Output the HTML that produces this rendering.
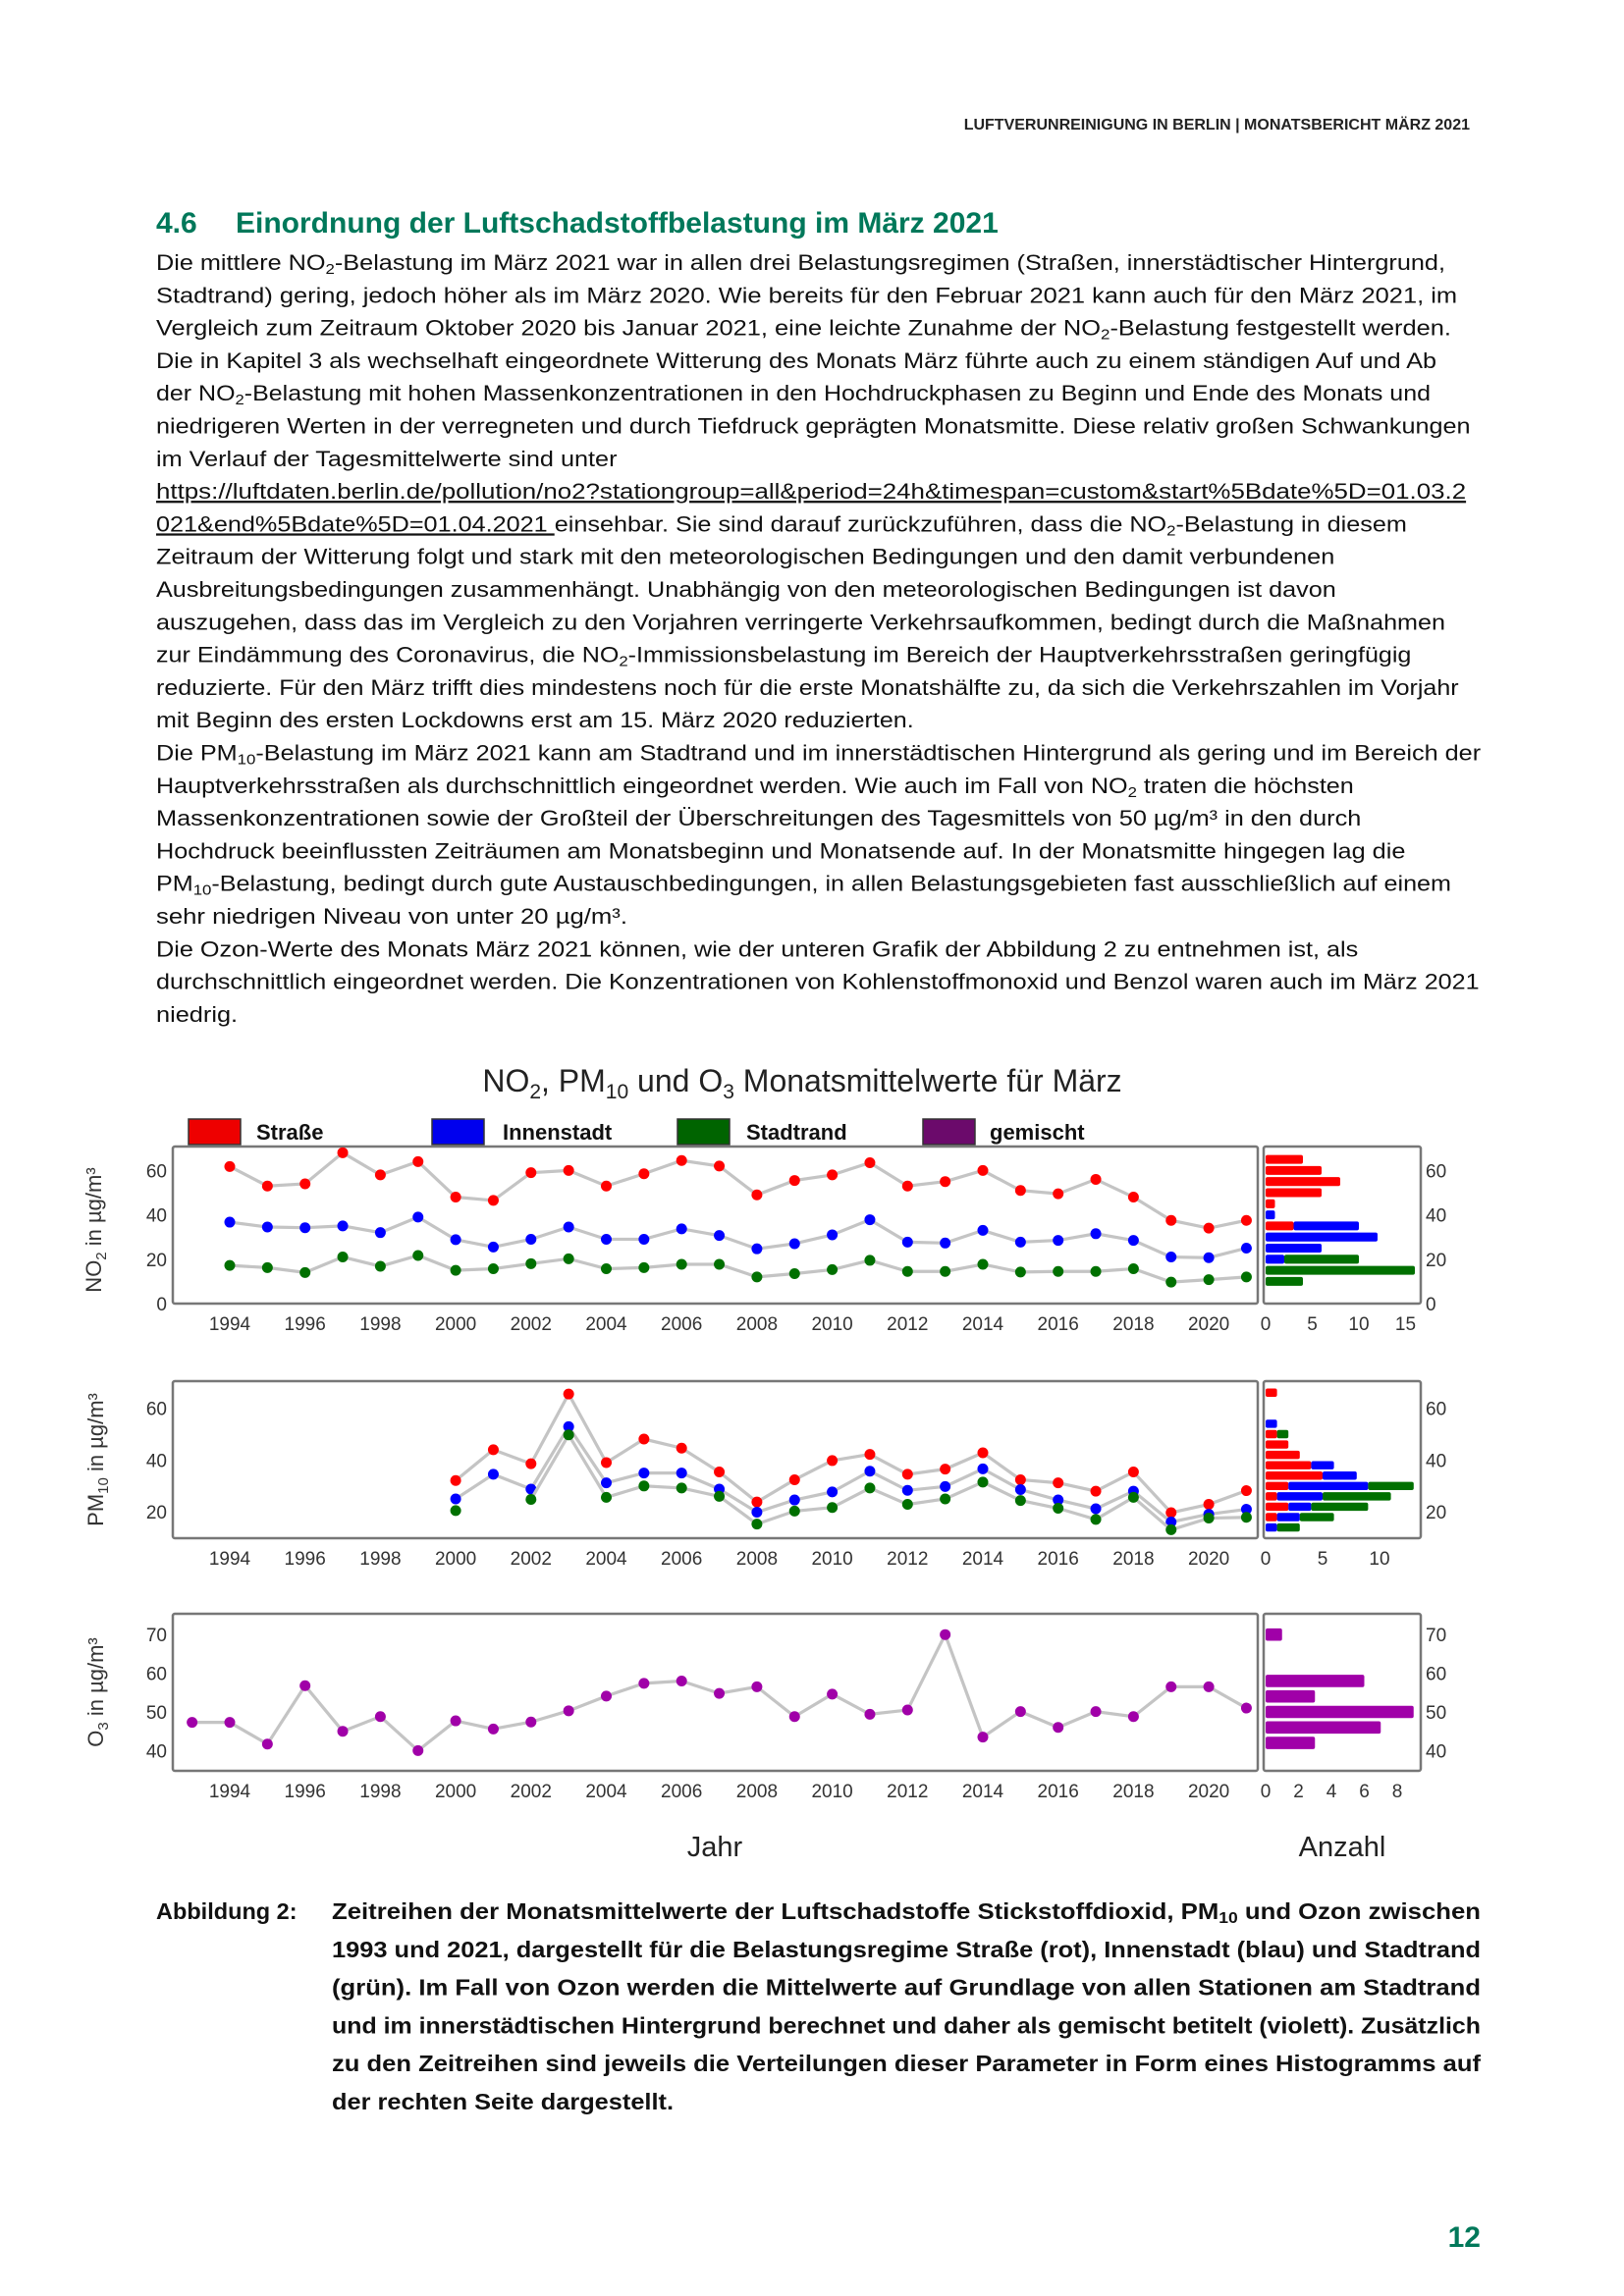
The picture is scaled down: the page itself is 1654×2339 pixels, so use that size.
<!DOCTYPE html>
<html><head><meta charset="utf-8"><style>
html,body{margin:0;padding:0;background:#fff;}
svg{display:block;}
.b{font-family:"Liberation Sans",sans-serif;fill:#111;font-size:22.5px;}
.c{font-family:"Liberation Sans",sans-serif;fill:#111;font-size:23.5px;font-weight:bold;}
.t{font-family:"Liberation Sans",sans-serif;fill:#333;font-size:19px;}
</style></head><body>
<svg id="page" width="1654" height="2339" viewBox="0 0 1654 2339" xmlns="http://www.w3.org/2000/svg">
<text x="1497" y="132" text-anchor="end" font-family="Liberation Sans, sans-serif" font-weight="bold" font-size="16" fill="#222">LUFTVERUNREINIGUNG IN BERLIN | MONATSBERICHT MÄRZ 2021</text>
<text x="159" y="237" font-family="Liberation Sans, sans-serif" font-weight="bold" font-size="30" fill="#00785a">4.6<tspan x="240">Einordnung der Luftschadstoffbelastung im März 2021</tspan></text>
<g id="body"></g>
<g id="chart"></g>
<g id="caption"></g>
<text x="1508" y="2289" text-anchor="end" font-family="Liberation Sans, sans-serif" font-weight="bold" font-size="30" fill="#00785a">12</text>
</svg>
<script>
// ---------- chart data ----------
const years = [1993,1994,1995,1996,1997,1998,1999,2000,2001,2002,2003,2004,2005,2006,2007,2008,2009,2010,2011,2012,2013,2014,2015,2016,2017,2018,2019,2020,2021];
const no2Years = [1994,1995,1996,1997,1998,1999,2000,2001,2002,2003,2004,2005,2006,2007,2008,2009,2010,2011,2012,2013,2014,2015,2016,2017,2018,2019,2020,2021];
const no2Strasse = [61.8,53,54,68,58,64,48,46.5,59,60,53,58.5,64.5,62,49,55.5,58,63.5,53,55,60,51,49.5,56,48,37.5,34,37.5];
const no2Innenstadt = [36.7,34.5,34.2,35,32,39,28.8,25.5,29,34.5,29,29,33.7,30.7,24.7,27,31,37.8,27.7,27.3,33,27.7,28.5,31.5,28.5,21,20.7,25];
const no2Stadtrand = [17.2,16.2,14,21,16.8,21.7,15,15.7,18,20.2,15.7,16.2,17.7,17.7,12,13.5,15.3,19.5,14.5,14.5,17.7,14.2,14.5,14.5,15.7,9.7,10.8,12];
const pmYears = [2000,2001,2002,2003,2004,2005,2006,2007,2008,2009,2010,2011,2012,2013,2014,2015,2016,2017,2018,2019,2020,2021];
const pmStrasse = [32.1,44,38.6,65.5,39,48.1,44.6,35.4,23.8,32.4,39.8,42.2,34.5,36.5,42.8,32.4,31.2,28,35.4,19.7,22.9,28.2];
const pmInnenstadt = [25,34.5,28.8,52.9,31.2,35,35,28.8,19.9,24.6,27.7,35.7,28.3,29.8,36.6,28.6,24.6,21.2,28,16.1,19.1,21];
const pmStadtrand = [20.5,null,24.8,49.7,25.6,30,29.2,26,15.3,20.3,21.7,29.2,22.9,25,31.5,24.4,21.4,17.1,25.6,13.1,17.6,17.9];
const o3Gemischt = [47.3,47.3,41.7,56.8,45,48.8,40,47.7,45.6,47.4,50.3,54.1,57.4,58,54.8,56.5,48.8,54.6,49.4,50.5,70,43.5,50.1,46,50.1,48.8,56.5,56.5,51];
const no2BinCenters = [10,15,20,25,30,35,40,45,50,55,60,65];
const no2HistStrasse = [0,0,0,0,0,3,0,1,6,8,6,4];
const no2HistInnenstadt = [0,0,2,6,12,7,1,0,0,0,0,0];
const no2HistStadtrand = [4,16,8,0,0,0,0,0,0,0,0,0];
const pmBinCenters = [14,18,22,26,30,34,38,42,46,50,54,58,62,66];
const pmHistStrasse = [0,1,2,1,2,5,4,3,2,1,0,0,0,1];
const pmHistInnenstadt = [1,2,2,4,7,3,2,0,0,0,1,0,0,0];
const pmHistStadtrand = [2,3,5,6,4,0,0,0,0,1,0,0,0,0];
const o3BinCenters = [42,46,50,54,58,62,66,70];
const o3HistGemischt = [3,7,9,3,6,0,0,1];
const yearTicks = [1994,1996,1998,2000,2002,2004,2006,2008,2010,2012,2014,2016,2018,2020];
const no2YTicks = [0,20,40,60];
const pmYTicks = [20,40,60];
const o3YTicks = [40,50,60,70];
const no2CountTicks = [0,5,10,15];
const pmCountTicks = [0,5,10];
const o3CountTicks = [0,2,4,6,8];

const NS="http://www.w3.org/2000/svg";
function mk(tag,parent,attrs){const e=document.createElementNS(NS,tag);for(const k in attrs)e.setAttribute(k,attrs[k]);parent.appendChild(e);return e;}
const chart=document.getElementById('chart');
const COL={r:'#ff0000',b:'#0000ff',g:'#007000',p:'#a000a8'};
const xYear=y=>234+(y-1994)*38.35;
const BOX_L=176,BOX_R=1281,H_L=1287,H_R=1447;
const panels=[
 {name:'no2',top:1168,bot:1328,y:v=>1328-v*2.26,ticks:no2YTicks,cs:9.5,cticks:no2CountTicks,lab:1348,binw:5,
  title:['NO','2',' in µg/m³'],tx:103,ty:1253},
 {name:'pm10',top:1407,bot:1567,y:v=>1593-v*2.64,ticks:pmYTicks,cs:11.6,cticks:pmCountTicks,lab:1587,binw:4,
  title:['PM','10',' in µg/m³'],tx:105,ty:1487},
 {name:'o3',top:1644,bot:1804,y:v=>1744-(v-50)*3.94,ticks:o3YTicks,cs:16.75,cticks:o3CountTicks,lab:1824,binw:4,
  title:['O','3',' in µg/m³'],tx:105,ty:1724}
];
// title
const tt=mk('text',chart,{x:817,y:1112,'text-anchor':'middle','font-family':'Liberation Sans, sans-serif','font-size':32,fill:'#222'});


tt.innerHTML='NO<tspan font-size="21" dy="7">2</tspan><tspan dy="-7">, PM</tspan><tspan font-size="21" dy="7">10</tspan><tspan dy="-7"> und O</tspan><tspan font-size="21" dy="7">3</tspan><tspan dy="-7"> Monatsmittelwerte für März</tspan>';
// legend
const legend=[['Straße','#ee0000',192,261],['Innenstadt','#0000ee',440,512],['Stadtrand','#006400',690,760],['gemischt','#6b0a6b',940,1008]];
legend.forEach(l=>{
 const r=mk('rect',chart,{x:l[2],y:1140,width:53,height:26,fill:l[1],stroke:'#333','stroke-width':1.5});
 
 
 const t=mk('text',chart,{x:l[3],y:1161,'font-family':'Liberation Sans, sans-serif','font-weight':'bold','font-size':22,fill:'#111'});
 t.textContent=l[0];
 
 
});
function series(p,xs,vals,color,nm){
 const g=mk('g',chart,{});
 
 
 let seg=[];const segs=[];
 xs.forEach((yr,i)=>{if(vals[i]==null){if(seg.length)segs.push(seg);seg=[];}else seg.push([xYear(yr),p.y(vals[i])]);});
 if(seg.length)segs.push(seg);
 segs.forEach(s=>{if(s.length>1){const pl=mk('polyline',g,{points:s.map(q=>q.join(',')).join(' '),fill:'none',stroke:'#c4c4c4','stroke-width':3.2});
  
  }});
 xs.forEach((yr,i)=>{if(vals[i]==null)return;
  const c=mk('circle',g,{cx:xYear(yr),cy:p.y(vals[i]),r:5.5,fill:color});
  
  });
}
function hist(p,centers,stacks){
 const g=mk('g',chart,{});
 
 
 const bh=Math.abs(p.y(0)-p.y(p.binw))*0.8;
 centers.forEach((c,i)=>{let acc=0;
  stacks.forEach(s=>{const n=s.vals[i];if(!n)return;
   const r=mk('rect',g,{x:H_L+2+acc*p.cs,y:p.y(c)-bh/2,width:n*p.cs,height:bh,fill:s.color,rx:2});
   
   
   acc+=n;});
 });
}
panels.forEach(p=>{
 const f=mk('rect',chart,{x:BOX_L,y:p.top,width:BOX_R-BOX_L,height:p.bot-p.top,fill:'none',stroke:'#777','stroke-width':2.5,rx:2});
 
 
 const h=mk('rect',chart,{x:H_L,y:p.top,width:H_R-H_L,height:p.bot-p.top,fill:'none',stroke:'#777','stroke-width':2.5,rx:2});
 
 
 p.ticks.forEach(v=>{
  const a=mk('text',chart,{x:170,y:p.y(v)+7,'text-anchor':'end',class:'t'});a.textContent=v;
  
  
  const b=mk('text',chart,{x:1452,y:p.y(v)+7,class:'t'});b.textContent=v;
  
  
 });
 yearTicks.forEach(yr=>{const t=mk('text',chart,{x:xYear(yr),y:p.lab+7,'text-anchor':'middle',class:'t'});t.textContent=yr;
  
  });
 p.cticks.forEach(v=>{const t=mk('text',chart,{x:H_L+2+v*p.cs,y:p.lab+7,'text-anchor':'middle',class:'t'});t.textContent=v;
  
  });
 const yt=mk('text',chart,{x:p.tx,y:p.ty,'text-anchor':'middle',transform:`rotate(-90 ${p.tx} ${p.ty})`,'font-family':'Liberation Sans, sans-serif','font-size':22,fill:'#333'});
 
 
 yt.innerHTML=p.title[0]+'<tspan font-size="15" dy="5">'+p.title[1]+'</tspan><tspan dy="-5">'+p.title[2]+'</tspan>';
});
series(panels[0],no2Years,no2Strasse,COL.r,'strasse');
series(panels[0],no2Years,no2Innenstadt,COL.b,'innenstadt');
series(panels[0],no2Years,no2Stadtrand,COL.g,'stadtrand');
hist(panels[0],no2BinCenters,[{vals:no2HistStrasse,color:COL.r,nm:'strasse'},{vals:no2HistInnenstadt,color:COL.b,nm:'innenstadt'},{vals:no2HistStadtrand,color:COL.g,nm:'stadtrand'}]);
series(panels[1],pmYears,pmStrasse,COL.r,'strasse');
series(panels[1],pmYears,pmInnenstadt,COL.b,'innenstadt');
series(panels[1],pmYears,pmStadtrand,COL.g,'stadtrand');
hist(panels[1],pmBinCenters,[{vals:pmHistStrasse,color:COL.r,nm:'strasse'},{vals:pmHistInnenstadt,color:COL.b,nm:'innenstadt'},{vals:pmHistStadtrand,color:COL.g,nm:'stadtrand'}]);
series(panels[2],years,o3Gemischt,COL.p,'gemischt');
hist(panels[2],o3BinCenters,[{vals:o3HistGemischt,color:COL.p,nm:'gemischt'}]);
const xl=mk('text',chart,{x:728,y:1891,'text-anchor':'middle','font-family':'Liberation Sans, sans-serif','font-size':29,fill:'#222'});xl.textContent='Jahr';


const cl=mk('text',chart,{x:1367,y:1891,'text-anchor':'middle','font-family':'Liberation Sans, sans-serif','font-size':29,fill:'#222'});cl.textContent='Anzahl';



// ---------- body text ----------
const S=s=>'<tspan font-size="15" dy="4">'+s+'</tspan><tspan dy="-4">';
const E='</tspan>';
const lines=[
['Die mittlere NO'+S('2')+'-Belastung im März 2021 war in allen drei Belastungsregimen (Straßen, innerstädtischer Hintergrund,'+E,979],
['Stadtrand) gering, jedoch höher als im März 2020. Wie bereits für den Februar 2021 kann auch für den März 2021, im',987],
['Vergleich zum Zeitraum Oktober 2020 bis Januar 2021, eine leichte Zunahme der NO'+S('2')+'-Belastung festgestellt werden.'+E,983],
['Die in Kapitel 3 als wechselhaft eingeordnete Witterung des Monats März führte auch zu einem ständigen Auf und Ab',973],
['der NO'+S('2')+'-Belastung mit hohen Massenkonzentrationen in den Hochdruckphasen zu Beginn und Ende des Monats und'+E,969],
['niedrigeren Werten in der verregneten und durch Tiefdruck geprägten Monatsmitte. Diese relativ großen Schwankungen',996],
['im Verlauf der Tagesmittelwerte sind unter',418],
['<tspan text-decoration="underline">https://luftdaten.berlin.de/pollution/no2?stationgroup=all&amp;period=24h&amp;timespan=custom&amp;start%5Bdate%5D=01.03.2</tspan>',993],
['<tspan text-decoration="underline">021&amp;end%5Bdate%5D=01.04.2021 </tspan>einsehbar. Sie sind darauf zurückzuführen, dass die NO'+S('2')+'-Belastung in diesem'+E,953],
['Zeitraum der Witterung folgt und stark mit den meteorologischen Bedingungen und den damit verbundenen',904],
['Ausbreitungsbedingungen zusammenhängt. Unabhängig von den meteorologischen Bedingungen ist davon',905],
['auszugehen, dass das im Vergleich zu den Vorjahren verringerte Verkehrsaufkommen, bedingt durch die Maßnahmen',979],
['zur Eindämmung des Coronavirus, die NO'+S('2')+'-Immissionsbelastung im Bereich der Hauptverkehrsstraßen geringfügig'+E,956],
['reduzierte. Für den März trifft dies mindestens noch für die erste Monatshälfte zu, da sich die Verkehrszahlen im Vorjahr',988],
['mit Beginn des ersten Lockdowns erst am 15. März 2020 reduzierten.',619],
['Die PM'+S('10')+'-Belastung im März 2021 kann am Stadtrand und im innerstädtischen Hintergrund als gering und im Bereich der'+E,1003],
['Hauptverkehrsstraßen als durchschnittlich eingeordnet werden. Wie auch im Fall von NO'+S('2')+' traten die höchsten'+E,917],
['Massenkonzentrationen sowie der Großteil der Überschreitungen des Tagesmittels von 50 µg/m³ in den durch',922],
['Hochdruck beeinflussten Zeiträumen am Monatsbeginn und Monatsende auf. In der Monatsmitte hingegen lag die',952],
['PM'+S('10')+'-Belastung, bedingt durch gute Austauschbedingungen, in allen Belastungsgebieten fast ausschließlich auf einem'+E,983],
['sehr niedrigen Niveau von unter 20 µg/m³.',425],
['Die Ozon-Werte des Monats März 2021 können, wie der unteren Grafik der Abbildung 2 zu entnehmen ist, als',920],
['durchschnittlich eingeordnet werden. Die Konzentrationen von Kohlenstoffmonoxid und Benzol waren auch im März 2021',1002],
['niedrig.',161]
];
const body=document.getElementById('body');
lines.forEach((l,i)=>{
 const t=mk('text',body,{x:159,y:275+i*33.3,class:'b',textLength:(l[1]*1.5036-159).toFixed(1),lengthAdjust:'spacingAndGlyphs'});
 
 
 t.innerHTML=l[0];
});
// ---------- caption ----------
const cap=document.getElementById('caption');
const ab=mk('text',cap,{x:159,y:1955,class:'c'});ab.textContent='Abbildung 2:';


const capLines=[
['Zeitreihen der Monatsmittelwerte der Luftschadstoffe Stickstoffdioxid, PM<tspan font-size="16" dy="4">10</tspan><tspan dy="-4"> und Ozon zwischen</tspan>',1170],
['1993 und 2021, dargestellt für die Belastungsregime Straße (rot), Innenstadt (blau) und Stadtrand',1170],
['(grün). Im Fall von Ozon werden die Mittelwerte auf Grundlage von allen Stationen am Stadtrand',1170],
['und im innerstädtischen Hintergrund berechnet und daher als gemischt betitelt (violett). Zusätzlich',1170],
['zu den Zeitreihen sind jeweils die Verteilungen dieser Parameter in Form eines Histogramms auf',1170],
['der rechten Seite dargestellt.',348]
];
capLines.forEach((l,i)=>{
 const t=mk('text',cap,{x:338,y:1955+i*38.8,class:'c',textLength:l[1],lengthAdjust:'spacingAndGlyphs'});
 
 
 t.innerHTML=l[0];
});
</script>
</body></html>
